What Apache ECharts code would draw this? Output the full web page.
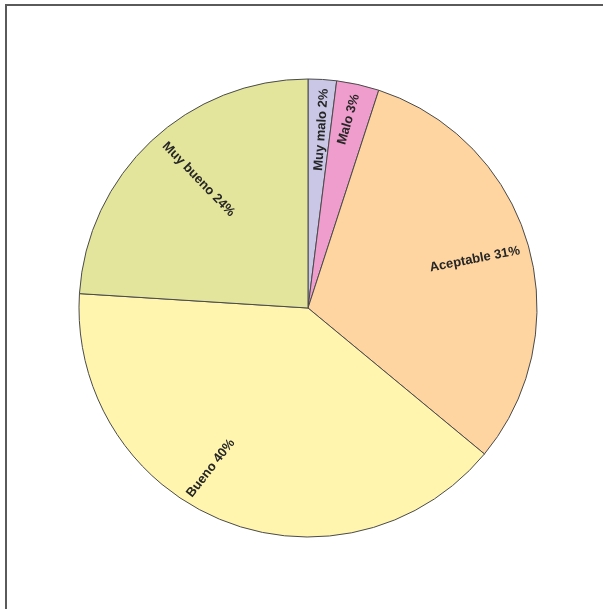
<!DOCTYPE html>
<html>
<head>
<meta charset="utf-8">
<script src="https://cdn.jsdelivr.net/npm/echarts@6/dist/echarts.min.js"></script>
<style>
html,body{margin:0;padding:0;background:#fff;}
#frame{position:absolute;left:5px;top:4px;width:598px;height:605px;border-top:2px solid #5a5a5a;border-left:2px solid #5a5a5a;box-sizing:border-box;}
#chart{position:absolute;left:0;top:0;width:603px;height:609px;}
</style>
</head>
<body>
<div id="frame"></div>
<div id="chart"></div>
<script>
const categories = ['Muy malo', 'Malo', 'Aceptable', 'Bueno', 'Muy bueno'];
const values = [2, 3, 31, 40, 24];
const colors = ['#c9c6e6', '#ef9dcc', '#fed5a1', '#fff5af', '#e3e59c'];
// label styling (rotation in degrees, on-screen shift from default inside position in px)
const labelRotate = [86, 74, 11, 52, -46];
const labelShift = [[6, -61], [15, -74], [54, -16], [-54, 51], [-29, -43]];

const chart = echarts.init(document.getElementById('chart'), null, {renderer: 'canvas'});
chart.setOption({
  animation: false,
  backgroundColor: 'transparent',
  series: [{
    type: 'pie',
    center: [308, 308],
    radius: [0, 229],
    startAngle: 90,
    clockwise: true,
    avoidLabelOverlap: false,
    itemStyle: {borderColor: '#4a4a4a', borderWidth: 1},
    label: {
      show: true,
      position: 'inside',
      color: '#262626',
      fontFamily: '"Liberation Sans", Arial, sans-serif',
      fontWeight: 'bold',
      fontSize: 13,
      formatter: p => p.name + ' ' + p.value + '%'
    },
    labelLine: {show: false},
    emphasis: {disabled: true},
    labelLayout: function (params) {
      const i = params.dataIndex;
      const s = labelShift[i];
      const t = labelRotate[i] * Math.PI / 180;
      // convert screen shift into label-local (rotated) frame
      const dx = s[0] * Math.cos(t) - s[1] * Math.sin(t);
      const dy = s[0] * Math.sin(t) + s[1] * Math.cos(t);
      return {dx: dx, dy: dy};
    },
    data: categories.map((c, i) => ({
      name: c,
      value: values[i],
      itemStyle: {color: colors[i]},
      label: {rotate: labelRotate[i]}
    }))
  }]
});
</script>
</body>
</html>
